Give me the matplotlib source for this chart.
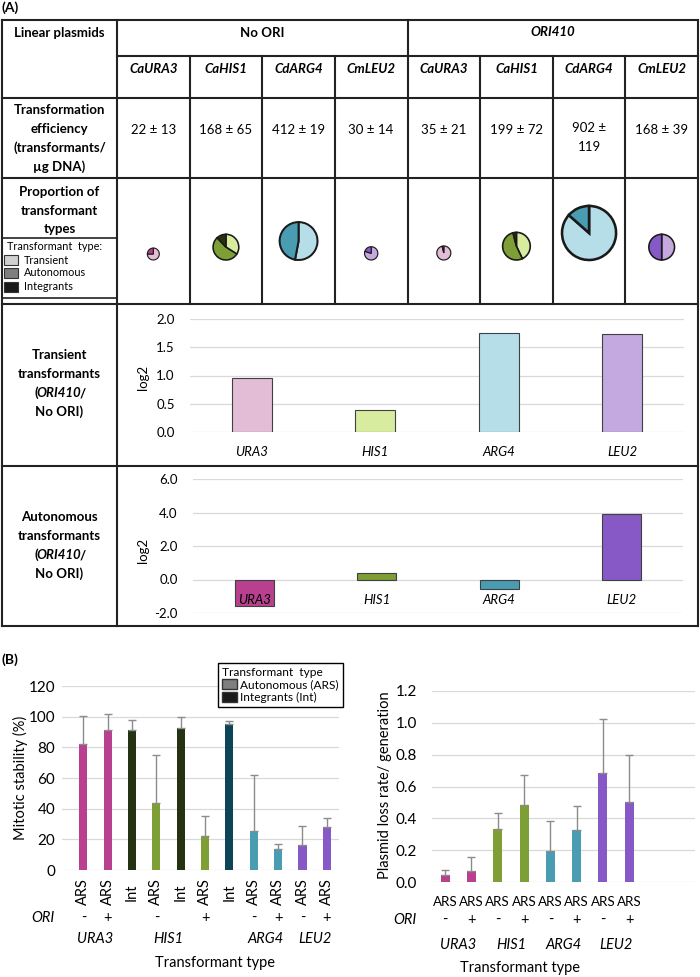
import numpy as np
import matplotlib
matplotlib.use("Agg")
import matplotlib.pyplot as plt
from matplotlib.patches import Rectangle, Patch
from matplotlib.transforms import offset_copy

plt.rcParams['font.family'] = ['Lato', 'DejaVu Sans']
plt.rcParams['axes.unicode_minus'] = False

# ---------------- data ----------------
genes = ["URA3", "HIS1", "ARG4", "LEU2"]
plasmids = ["CaURA3", "CaHIS1", "CdARG4", "CmLEU2"]
# transformation efficiency, 4 x No ORI then 4 x ORI410
eff_mean = [22, 168, 412, 30, 35, 199, 902, 168]
eff_sd = [13, 65, 19, 14, 21, 72, 119, 39]
# proportion of transformant types per column
frac_transient = [0.75, 0.34, 0.53, 0.80, 0.96, 0.43, 0.865, 0.50]
frac_autonomous = [0.25, 0.54, 0.47, 0.20, 0.04, 0.53, 0.135, 0.50]
frac_integrant = [0.00, 0.12, 0.00, 0.00, 0.00, 0.04, 0.00, 0.00]

transient_log2 = [0.95, 0.39, 1.76, 1.74]
autonomous_log2 = [-1.59, 0.36, -0.58, 3.89]

stab_type = ["ARS", "ARS", "Int", "ARS", "Int", "ARS", "Int", "ARS", "ARS", "ARS", "ARS"]
stab_gene = ["URA3", "URA3", "HIS1", "HIS1", "HIS1", "HIS1", "ARG4", "ARG4", "ARG4", "LEU2", "LEU2"]
stab_ori = ["-", "+", "", "-", "", "+", "", "-", "+", "-", "+"]
stab_mean = [82, 91.5, 91, 43.5, 92.5, 22, 95, 25.5, 14, 16.5, 28]
stab_err = [18.5, 10, 7, 31.5, 7.5, 13.5, 2.5, 36.5, 3, 12.5, 6]
stab_gene_pos = [0.5, 3.5, 7.5, 9.5]

loss_gene = ["URA3", "URA3", "HIS1", "HIS1", "ARG4", "ARG4", "LEU2", "LEU2"]
loss_ori = ["-", "+", "-", "+", "-", "+", "-", "+"]
loss_mean = [0.045, 0.07, 0.335, 0.485, 0.195, 0.325, 0.685, 0.505]
loss_err = [0.03, 0.09, 0.10, 0.185, 0.19, 0.15, 0.34, 0.29]

light = {"URA3": "#E2BDD5", "HIS1": "#D8EC9F", "ARG4": "#B6DEE8", "LEU2": "#C3A9E0"}
dark = {"URA3": "#B8408F", "HIS1": "#7E9F35", "ARG4": "#4A9CB3", "LEU2": "#8659C6"}
integ = {"URA3": "#253312", "HIS1": "#253312", "ARG4": "#0C4458", "LEU2": "#3B2266"}

GRID = "#D9D9D9"
LINE = "#222222"
FA = 9.5    # tick text in the (A) charts
FB = 10.5   # text in the (B) charts

W, H = 700, 977
fig = plt.figure(figsize=(7, 9.77), dpi=100)
bg = fig.add_axes([0, 0, 1, 1])
bg.axis('off')


def Y(y):
    return H - y


def hline(x0, x1, y, lw=1.5):
    bg.plot([x0, x1], [Y(y), Y(y)], color=LINE, lw=lw, solid_capstyle='projecting')


def vline(x, y0, y1, lw=1.5):
    bg.plot([x, x], [Y(y0), Y(y1)], color=LINE, lw=lw, solid_capstyle='projecting')


def txt(x, y, s, size=9.5, **kw):
    kw.setdefault('ha', 'center')
    kw.setdefault('va', 'center')
    return bg.text(x, Y(y), s, fontsize=size, **kw)


def mixed(x, y, parts, size=9.5, weight='bold'):
    # one centred line made of pieces in different styles
    r = fig.canvas.get_renderer()
    items = [txt(0, y, s, size, ha='left', fontweight=weight, style=st) for s, st in parts]
    widths = [t.get_window_extent(r).width - 1.5 for t in items]
    cur = x - sum(widths) / 2
    for t, w in zip(items, widths):
        t.set_x(cur)
        cur += w


def ax_px(x0, x1, y0, y1):
    a = fig.add_axes([x0 / W, 1 - y1 / H, (x1 - x0) / W, (y1 - y0) / H])
    a.set_facecolor('none')
    for s in a.spines.values():
        s.set_visible(False)
    a.tick_params(length=0)
    a.set_axisbelow(True)
    a.grid(axis='y', color=GRID, lw=0.9)
    return a


def under(a, x, dy, s, **kw):
    tr = offset_copy(a.get_xaxis_transform(), fig=fig, y=-dy, units='dots')
    a.text(x, 0, s, transform=tr, ha='center', va='center', clip_on=False, **kw)


# ---------------- table (A) ----------------
L, C1, R = 2, 117, 698
colw = (R - C1) / 8
cols = [C1 + k * colw for k in range(9)]
centers = [(cols[k] + cols[k + 1]) / 2 for k in range(8)]

for y in (20, 626, 98, 178, 304, 466):
    hline(L, R, y)
hline(C1, R, 56)
vline(L, 20, 626)
vline(R, 20, 626)
vline(C1, 20, 626)
vline(cols[4], 20, 304)
for k in (1, 2, 3, 5, 6, 7):
    vline(cols[k], 56, 304)
hline(L, C1, 238, lw=1.2)
hline(L, C1, 298, lw=1.2)

txt(2, 8, "(A)", 10, ha='left', fontweight='bold')
txt((L + C1) / 2, 33, "Linear plasmids", fontweight='bold')
txt((cols[0] + cols[4]) / 2, 33, "No ORI", fontweight='bold')
txt((cols[4] + cols[8]) / 2, 32, "ORI410", fontweight='bold', style='italic')
for k in range(8):
    txt(centers[k], 69, plasmids[k % 4], fontweight='bold', style='italic')
    s = f"{eff_mean[k]} ± {eff_sd[k]}"
    if len(s) > 8:
        txt(centers[k], 128, f"{eff_mean[k]} ±")
        txt(centers[k], 147, f"{eff_sd[k]}")
    else:
        txt(centers[k], 130, s)

lc = (L + C1) / 2
for s, y in zip(["Transformation", "efficiency", "(transformants/", "µg DNA)"], [110, 129, 148, 167]):
    txt(lc, y, s, fontweight='bold')
for s, y in zip(["Proportion of", "transformant", "types"], [192, 211, 229]):
    txt(lc, y, s, fontweight='bold')

# legend inside table
txt(7, 247, "Transformant  type:", 7.8, ha='left')
for (lab, col), y in zip([("Transient", "#D0D0D0"), ("Autonomous", "#7F7F7F"), ("Integrants", "#1A1A1A")],
                         [260, 273, 287]):
    bg.add_patch(Rectangle((4, Y(y) - 5), 14, 10, facecolor=col, edgecolor='#333333', lw=0.8))
    txt(24, y, lab, 7.8, ha='left')

for y0, first in ((355, "Transient"), (517, "Autonomous")):
    txt(lc, y0, first, fontweight='bold')
    txt(lc, y0 + 19, "transformants", fontweight='bold')
    mixed(lc, y0 + 38, [("(", 'normal'), ("ORI410", 'italic'), ("/", 'normal')])
    txt(lc, y0 + 57, "No ORI)", fontweight='bold')

# pies (bottom aligned, radius from efficiency)
for k in range(8):
    g = genes[k % 4]
    r = 2.1 + 0.83 * np.sqrt(eff_mean[k])
    fr = [frac_transient[k], frac_autonomous[k], frac_integrant[k]]
    cl = [light[g], dark[g], integ[g]]
    keep = [i for i in range(3) if fr[i] > 0]
    bg.pie([fr[i] for i in keep], colors=[cl[i] for i in keep], center=(centers[k], Y(260 - r)),
           radius=r, startangle=90, counterclock=False, frame=True,
           wedgeprops=dict(edgecolor='#1A1A1A', linewidth=0.5 + 0.05 * r))
bg.set_xlim(0, W)
bg.set_ylim(0, H)
bg.set_aspect('auto')
bg.axis('off')

# transient chart
a1 = ax_px(190, 684, 319, 432)
x4 = np.arange(4)
a1.bar(x4, transient_log2, width=0.32, color=[light[g] for g in genes], edgecolor='#404040', lw=0.8)
a1.set_xlim(-0.5, 3.5)
a1.set_ylim(0, 2)
a1.set_yticks(np.arange(0, 2.01, 0.5))
a1.set_yticklabels([f"{v:.1f}" for v in np.arange(0, 2.01, 0.5)], fontsize=FA)
a1.tick_params(axis='y', pad=11)
a1.set_xticks(x4)
a1.set_xticklabels(genes, fontsize=FA, style='italic')
a1.tick_params(axis='x', pad=10)
txt(143, 377, "log2", FA, rotation=90)

# autonomous chart
a2 = ax_px(193, 683, 479, 613)
a2.bar(x4, autonomous_log2, width=0.32, color=[dark[g] for g in genes], edgecolor='#404040', lw=0.8)
a2.set_xlim(-0.5, 3.5)
a2.set_ylim(-2, 6)
a2.set_yticks(np.arange(-2, 6.01, 2))
a2.set_yticklabels([f"{v:.1f}" for v in np.arange(-2, 6.01, 2)], fontsize=FA)
a2.tick_params(axis='y', pad=11)
a2.set_xticks([])
for i, g in enumerate(genes):
    a2.text(i, -1.22, g, fontsize=FA, style='italic', ha='center', va='center', zorder=5)
txt(143, 550, "log2", FA, rotation=90)

# ---------------- (B) ----------------
txt(2, 660, "(B)", 10, ha='left', fontweight='bold')

b1 = ax_px(62, 339, 686, 870)
xs = np.arange(len(stab_mean))
bcol = [dark[g] if t == "ARS" else integ[g] for g, t in zip(stab_gene, stab_type)]
b1.bar(xs, stab_mean, width=0.33, color=bcol)
b1.errorbar(xs, stab_mean, yerr=[np.zeros(len(xs)), stab_err], fmt='none',
            ecolor='#8C8C8C', elinewidth=1, capsize=3, capthick=1)
b1.set_xlim(-0.88, 10.5)
b1.set_ylim(0, 120)
b1.set_yticks(np.arange(0, 121, 20))
b1.tick_params(axis='y', labelsize=FB + 0.5, pad=5)
b1.set_xticks([])
for i in xs:
    under(b1, i, 22, stab_type[i], fontsize=FB, rotation=90)
    under(b1, i, 48, stab_ori[i], fontsize=FB)
for p, g in zip(stab_gene_pos, genes):
    under(b1, p, 69, g, fontsize=FB, style='italic')
txt(43, 918, "ORI", FB, style='italic')
txt(215, 963, "Transformant type", FB)
txt(20, 778, "Mitotic stability (%)", FB, rotation=90)

leg = fig.legend([Patch(facecolor="#7F7F7F", edgecolor="#333333"), Patch(facecolor="#1A1A1A", edgecolor="#333333")],
                 ["Autonomous (ARS)", "Integrants (Int)"], title="Transformant  type",
                 loc='upper left', bbox_to_anchor=(218 / W, 1 - 663 / H), fontsize=8.6, title_fontsize=8.6,
                 fancybox=False, edgecolor='black', framealpha=1, handlelength=1.2, handleheight=0.9,
                 handletextpad=0.3, borderpad=0.35, labelspacing=0.1, borderaxespad=0, alignment='left')
leg.get_frame().set_linewidth(1.0)

b2 = ax_px(432, 695, 691, 882)
xl = np.arange(len(loss_mean))
b2.bar(xl, loss_mean, width=0.34, color=[dark[g] for g in loss_gene])
b2.errorbar(xl, loss_mean, yerr=[np.zeros(len(xl)), loss_err], fmt='none',
            ecolor='#8C8C8C', elinewidth=1, capsize=3, capthick=1)
b2.set_xlim(-0.5, 9.5)
b2.set_ylim(0, 1.2)
b2.set_yticks(np.arange(0, 1.21, 0.2))
b2.set_yticklabels([f"{v:.1f}" for v in np.arange(0, 1.21, 0.2)])
b2.tick_params(axis='y', labelsize=FB + 0.5, pad=11)
b2.set_xticks([])
for i in xl:
    under(b2, i, 20, "ARS", fontsize=9.6)
    under(b2, i, 38, loss_ori[i], fontsize=FB)
for j, g in enumerate(genes):
    under(b2, 2 * j + 0.5, 63, g, fontsize=FB, style='italic')
txt(405, 920, "ORI", FB, style='italic')
txt(520, 968, "Transformant type", FB)
txt(385, 785, "Plasmid loss rate/ generation", FB, rotation=90)

fig.savefig("out.png", dpi=100)
